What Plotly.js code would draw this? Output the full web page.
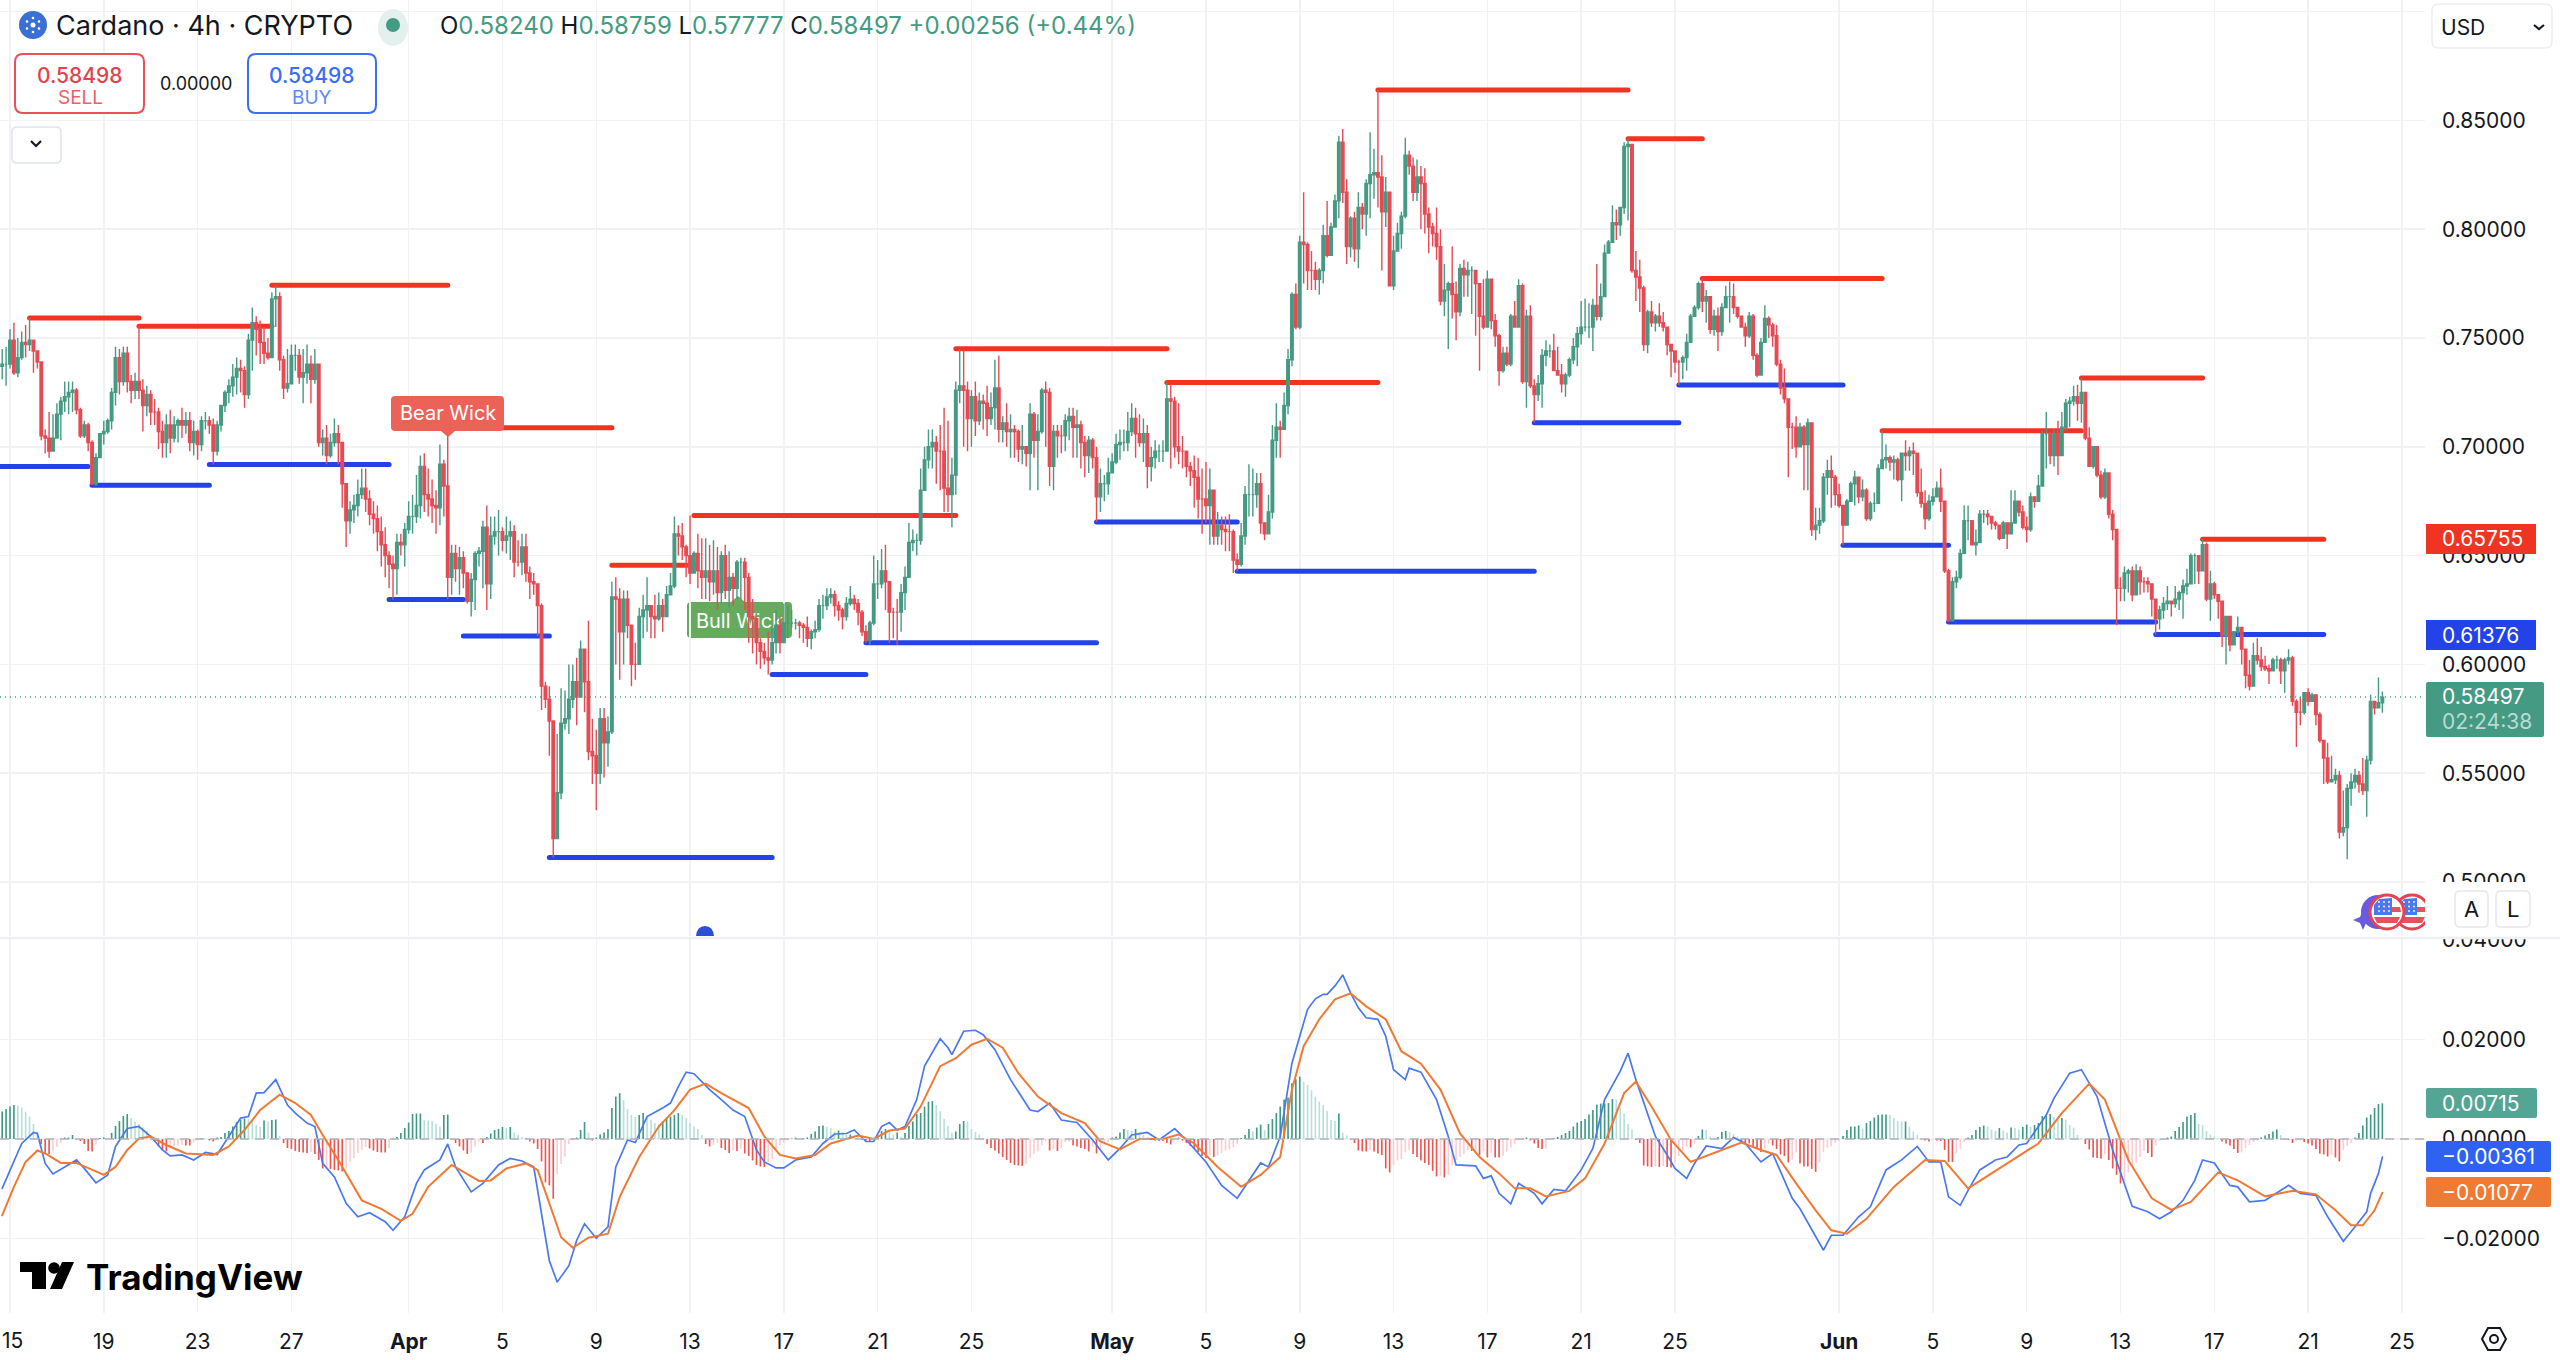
<!DOCTYPE html>
<html><head><meta charset="utf-8">
<script src="https://cdn.plot.ly/plotly-3.0.1.min.js"></script>
<style>html,body{margin:0;padding:0;background:#fff}#chart{width:2560px;height:1360px}.js-line{stroke-linecap:round}</style>
</head><body><div id="chart"></div>
<script>
const firstOpen=.737;
const closes=[
.738,.738,.749,.734,.741,.748,.747,.749,.744,.739,
.705,.704,.698,.704,.715,.721,.723,.725,.726,.717,
.705,.71,.702,.683,.695,.706,.707,.712,.725,.741,
.73,.743,.73,.726,.73,.726,.719,.724,.716,.716,
.707,.702,.71,.704,.71,.712,.71,.712,.702,.707,
.701,.712,.712,.71,.698,.71,.719,.725,.728,.732,
.736,.735,.724,.749,.757,.754,.748,.743,.741,.768,
.769,.74,.727,.729,.742,.742,.732,.734,.738,.731,
.738,.702,.704,.696,.702,.706,.702,.683,.666,.671,
.673,.678,.681,.676,.669,.667,.661,.655,.65,.646,
.644,.656,.655,.662,.668,.668,.673,.691,.678,.676,
.673,.672,.692,.682,.64,.651,.644,.649,.642,.629,
.639,.651,.652,.663,.637,.659,.661,.661,.657,.659,
.661,.647,.647,.654,.642,.638,.637,.627,.59,.584,
.574,.52,.541,.573,.575,.584,.592,.585,.607,.592,
.56,.558,.55,.575,.564,.569,.631,.63,.615,.63,
.618,.6,.6,.622,.625,.627,.622,.621,.627,.622,
.632,.636,.66,.659,.654,.65,.642,.651,.643,.64,
.643,.638,.643,.633,.65,.634,.64,.635,.647,.647,
.64,.622,.621,.61,.606,.603,.602,.61,.618,.61,
.619,.619,.619,.619,.618,.617,.612,.615,.616,.627,
.627,.631,.632,.627,.625,.622,.628,.63,.628,.624,
.615,.611,.619,.637,.637,.643,.638,.624,.624,.624,
.633,.64,.656,.657,.657,.68,.694,.7,.702,.698,
.698,.681,.678,.687,.726,.728,.726,.713,.723,.712,
.721,.72,.713,.718,.727,.708,.711,.707,.708,.707,
.699,.7,.697,.715,.703,.707,.726,.725,.691,.707,
.705,.705,.712,.714,.709,.71,.702,.696,.703,.695,
.677,.683,.683,.688,.693,.701,.702,.702,.707,.713,
.706,.702,.706,.691,.695,.698,.698,.698,.722,.721,
.7,.698,.698,.691,.689,.686,.676,.676,.673,.68,
.659,.664,.662,.661,.661,.648,.646,.659,.678,.678,
.678,.683,.665,.66,.67,.703,.709,.708,.719,.74,
.77,.755,.794,.793,.781,.781,.777,.781,.797,.788,
.801,.813,.84,.817,.792,.805,.791,.81,.807,.821,
.825,.826,.824,.808,.817,.774,.79,.798,.806,.834,
.829,.817,.824,.821,.807,.801,.798,.792,.767,.772,
.775,.77,.762,.782,.779,.781,.781,.775,.76,.755,
.777,.758,.751,.735,.743,.738,.76,.755,.774,.73,
.76,.728,.724,.729,.742,.744,.744,.735,.733,.729,
.733,.74,.746,.752,.755,.755,.755,.765,.76,.769,
.789,.794,.803,.802,.81,.838,.839,.781,.778,.773,
.747,.762,.757,.76,.757,.755,.747,.744,.739,.739,
.741,.748,.76,.764,.775,.767,.769,.754,.76,.753,
.764,.769,.769,.764,.76,.755,.751,.76,.742,.733,
.748,.759,.756,.751,.738,.727,.722,.709,.709,.7,
.709,.701,.711,.662,.664,.666,.686,.689,.686,.678,
.673,.664,.675,.683,.686,.677,.68,.667,.674,.674,
.69,.694,.695,.693,.694,.685,.697,.696,.698,.697,
.679,.674,.667,.675,.677,.681,.675,.643,.62,.638,
.64,.651,.666,.666,.655,.656,.669,.669,.668,.665,
.664,.658,.665,.66,.665,.675,.67,.663,.662,.677,
.675,.682,.706,.706,.696,.706,.696,.709,.72,.721,
.723,.72,.725,.704,.691,.7,.687,.677,.688,.669,
.662,.635,.635,.642,.643,.632,.643,.638,.638,.637,
.63,.621,.625,.628,.629,.628,.63,.633,.636,.637,
.65,.65,.643,.655,.63,.637,.632,.629,.613,.622,
.609,.615,.617,.607,.595,.59,.604,.602,.599,.598,
.597,.602,.602,.597,.602,.603,.583,.578,.578,.587,
.583,.586,.577,.565,.557,.546,.547,.549,.523,.525,
.543,.546,.549,.545,.542,.556,.583,.58,.5824,.58497];
const highs=[
.745,.746,.754,.757,.75,.753,.756,.7592,.749,.744,
.739,.708,.716,.715,.72,.723,.73,.73,.73,.727,
.718,.712,.711,.703,.697,.706,.712,.713,.727,.746,
.745,.746,.746,.733,.734,.7554,.731,.728,.726,.722,
.718,.712,.715,.717,.714,.713,.718,.716,.716,.712,
.708,.714,.716,.714,.713,.712,.719,.726,.731,.738,
.741,.74,.737,.752,.764,.76,.758,.755,.75,.771,
.7742,.771,.742,.745,.747,.747,.745,.745,.747,.742,
.745,.738,.708,.71,.706,.713,.71,.7,.683,.675,
.678,.685,.69,.69,.68,.675,.673,.668,.663,.652,
.65,.66,.66,.665,.675,.678,.687,.696,.697,.69,
.685,.68,.701,.694,.7088,.655,.655,.654,.652,.642,
.642,.652,.654,.666,.673,.668,.668,.671,.663,.668,
.666,.664,.657,.66,.66,.645,.642,.637,.628,.592,
.59,.572,.568,.589,.588,.6,.6,.603,.611,.605,
.62,.575,.57,.58,.58,.576,.638,.64,.635,.634,
.634,.612,.61,.626,.632,.64,.627,.632,.633,.63,
.636,.642,.668,.664,.665,.655,.6684,.652,.66,.658,
.658,.655,.657,.654,.652,.655,.652,.642,.648,.649,
.649,.642,.63,.615,.612,.61,.615,.617,.625,.622,
.628,.627,.625,.621,.62,.619,.622,.616,.62,.63,
.632,.635,.635,.634,.629,.626,.631,.636,.632,.63,
.625,.618,.62,.65,.648,.653,.655,.632,.626,.63,
.637,.645,.665,.662,.66,.69,.7,.708,.708,.705,
.71,.718,.712,.695,.73,.7451,.7445,.73,.726,.73,
.725,.724,.728,.725,.74,.742,.714,.72,.715,.71,
.708,.71,.7,.72,.716,.715,.727,.73,.727,.71,
.71,.71,.715,.718,.718,.717,.712,.705,.705,.704,
.7,.69,.687,.695,.697,.706,.708,.708,.716,.72,
.718,.715,.713,.71,.7,.703,.701,.703,.7296,.729,
.723,.72,.705,.695,.693,.696,.695,.69,.693,.69,
.68,.67,.668,.668,.669,.662,.651,.665,.682,.692,
.69,.688,.688,.665,.678,.71,.72,.712,.725,.745,
.771,.775,.797,.817,.794,.79,.785,.782,.802,.813,
.803,.816,.843,.846,.823,.806,.808,.817,.812,.823,
.8445,.837,.864,.834,.824,.817,.797,.803,.808,.842,
.836,.833,.832,.829,.828,.81,.803,.81,.8,.784,
.776,.792,.776,.784,.786,.785,.783,.777,.762,.777,
.781,.777,.761,.752,.746,.746,.761,.767,.777,.775,
.763,.765,.731,.733,.745,.749,.747,.752,.746,.738,
.734,.741,.75,.755,.767,.768,.766,.768,.784,.775,
.793,.795,.811,.809,.81,.84,.8416,.825,.79,.786,
.774,.763,.767,.761,.766,.762,.754,.747,.744,.74,
.742,.752,.761,.765,.776,.7773,.772,.769,.763,.764,
.766,.774,.776,.775,.764,.76,.757,.762,.761,.743,
.75,.765,.76,.757,.756,.74,.736,.722,.711,.714,
.711,.71,.713,.689,.672,.672,.688,.694,.696,.687,
.683,.673,.676,.684,.689,.686,.685,.681,.675,.679,
.692,.7074,.701,.696,.696,.695,.692,.703,.7,.702,
.693,.69,.68,.678,.681,.684,.69,.675,.644,.64,
.643,.653,.673,.673,.666,.662,.671,.671,.671,.667,
.666,.663,.666,.665,.68,.68,.675,.673,.668,.679,
.677,.687,.7075,.716,.707,.708,.712,.716,.722,.723,
.728,.7285,.7316,.725,.709,.7,.695,.689,.69,.677,
.671,.66,.64,.645,.644,.645,.646,.645,.64,.64,
.637,.63,.627,.631,.636,.629,.636,.634,.639,.644,
.651,.651,.648,.6575,.656,.643,.638,.632,.622,.622,
.62,.615,.622,.617,.607,.602,.61,.612,.608,.604,
.6,.603,.604,.603,.603,.607,.604,.584,.585,.587,
.589,.587,.586,.578,.565,.564,.558,.552,.551,.542,
.545,.55,.552,.551,.557,.558,.586,.583,.594,.58759];
const lows=[
.731,.728,.736,.733,.732,.74,.741,.744,.734,.736,
.703,.697,.695,.698,.704,.703,.716,.715,.716,.715,
.704,.704,.698,.6823,.682,.696,.701,.706,.708,.719,
.724,.728,.725,.72,.722,.722,.707,.714,.71,.71,
.699,.695,.695,.697,.702,.702,.704,.706,.698,.696,
.694,.698,.708,.706,.6919,.696,.707,.716,.72,.723,
.724,.725,.718,.722,.735,.742,.738,.738,.74,.741,
.755,.735,.722,.725,.729,.735,.729,.72,.729,.72,
.729,.7,.696,.692,.695,.7,.692,.672,.654,.66,
.665,.668,.676,.67,.664,.66,.652,.645,.64,.635,
.6298,.632,.65,.645,.66,.66,.665,.667,.67,.668,
.665,.66,.664,.668,.63,.632,.638,.632,.635,.628,
.622,.625,.645,.635,.625,.63,.655,.65,.652,.651,
.648,.64,.645,.641,.638,.63,.632,.6131,.579,.58,
.558,.5113,.521,.538,.57,.568,.58,.572,.585,.578,
.556,.545,.533,.545,.548,.553,.568,.6,.593,.6,
.612,.59,.593,.605,.612,.615,.612,.612,.62,.615,
.625,.632,.635,.65,.648,.64,.637,.645,.635,.63,
.63,.629,.632,.625,.628,.63,.626,.627,.63,.63,
.625,.61,.605,.6,.598,.6,.5953,.6,.605,.605,
.61,.612,.617,.616,.612,.61,.608,.607,.612,.615,
.621,.625,.628,.622,.62,.616,.62,.627,.625,.618,
.613,.6099,.609,.618,.63,.635,.625,.61,.612,.609,
.615,.625,.64,.652,.65,.655,.68,.69,.69,.683,
.68,.67,.67,.663,.678,.72,.7,.698,.7,.705,
.71,.708,.705,.71,.708,.702,.702,.7,.695,.695,
.693,.692,.691,.68,.695,.68,.706,.7,.682,.68,
.695,.697,.698,.703,.695,.695,.69,.686,.688,.69,
.6654,.67,.675,.678,.688,.692,.694,.698,.698,.705,
.695,.7,.693,.681,.684,.69,.693,.693,.7,.69,
.695,.692,.69,.686,.682,.672,.667,.66,.665,.655,
.655,.655,.655,.652,.652,.642,.6428,.645,.655,.668,
.668,.672,.66,.657,.66,.667,.695,.695,.708,.715,
.737,.754,.754,.775,.772,.772,.772,.77,.775,.787,
.788,.801,.805,.812,.784,.787,.785,.782,.8,.797,
.805,.814,.81,.781,.801,.774,.772,.79,.791,.805,
.825,.813,.813,.8,.798,.789,.792,.786,.765,.76,
.745,.759,.749,.76,.769,.769,.761,.751,.735,.754,
.755,.754,.746,.728,.734,.737,.737,.755,.755,.729,
.718,.727,.711,.721,.718,.737,.741,.741,.733,.725,
.723,.732,.738,.737,.747,.753,.75,.744,.758,.758,
.77,.79,.795,.795,.797,.807,.804,.78,.767,.762,
.744,.743,.755,.753,.755,.753,.742,.732,.734,.7284,
.731,.735,.748,.76,.763,.762,.757,.752,.751,.744,
.751,.764,.757,.761,.759,.755,.746,.75,.74,.732,
.733,.748,.75,.746,.737,.724,.72,.686,.699,.695,
.706,.68,.68,.659,.657,.66,.665,.678,.672,.673,
.672,.6548,.664,.675,.673,.674,.675,.666,.666,.67,
.677,.69,.69,.689,.685,.684,.675,.689,.689,.687,
.677,.672,.662,.666,.673,.677,.67,.642,.6195,.621,
.635,.639,.651,.657,.655,.65,.657,.665,.664,.662,
.662,.657,.658,.653,.663,.669,.668,.662,.656,.661,
.672,.681,.682,.69,.692,.691,.687,.696,.707,.709,
.719,.712,.711,.703,.691,.69,.686,.676,.676,.667,
.657,.618,.629,.629,.633,.629,.633,.632,.633,.633,
.622,.6137,.616,.621,.625,.622,.626,.625,.621,.632,
.637,.637,.637,.648,.629,.62,.63,.621,.608,.6,
.606,.612,.613,.6,.589,.588,.593,.6,.597,.597,
.591,.597,.598,.591,.587,.6,.581,.562,.572,.577,
.581,.583,.572,.564,.545,.545,.547,.545,.52,.521,
.5105,.535,.543,.541,.54,.53,.554,.577,.58,.57777];
const resistanceFrom=[7,35,69,114,156,177,244,298,352,416,435,481,532,563];
const resistanceTo=[35,69,114,156,177,244,298,352,416,435,481,532,563,594];
const resistanceLevel=[.7592,.7554,.7742,.7088,.6456,.6684,.7451,.7296,.864,.8416,.7773,.7074,.7316,.65755];
const supportFrom=[-1,23,53,99,118,140,197,221,280,316,392,429,471,498,551];
const supportTo=[22,53,99,118,140,197,221,280,316,392,429,471,498,551,594];
const supportLevel=[.6909,.6823,.6919,.6298,.6131,.5113,.5953,.6099,.6654,.6428,.711,.7284,.6548,.6195,.61376];
const macdBars=[0,3,5,8,9,11,13,16,19,21,24,27,29,32,35,38,41,43,46,49,52,55,58,61,63,65,67,70,73,75,78,80,82,85,88,91,94,98,100,103,106,108,112,114,116,120,123,127,130,133,136,138,140,142,145,147,149,152,155,157,160,162,165,169,171,173,175,177,181,184,187,190,193,195,198,200,203,207,210,213,216,218,221,223,225,227,229,231,234,236,240,242,243,246,249,251,254,258,263,265,268,271,275,279,283,286,289,293,296,300,303,308,312,316,319,322,324,327,
330,334,336,338,339,341,343,345,347,349,352,354,356,359,360,363,367,370,372,377,379,381,383,386,388,392,394,397,400,404,407,410,414,416,418,421,423,426,428,431,433,436,440,443,446,450,453,456,458,460,464,466,468,471,475,478,482,486,490,493,496,498,501,503,506,510,513,516,518,523,525,529,532,536,540,543,545,549,552,555,558,561,563,566,570,572,575,579,585,588,592,595,599,602,605,606,608,609];
const macdMilli=[-9.9,-4.6,-.9,1.3,1.1,-4.9,-7,-5.6,-4.2,-5.9,-8.8,-7.2,-1.5,2.1,2.5,.5,-2.2,-3.4,-3.2,-4.2,-2.7,-3.1,.5,4.2,4.5,9.2,9.3,11.9,6.8,5.2,3.2,2.5,-4.9,-7.6,-12.9,-15.6,-14.8,-16.6,-18.3,-15.6,-8.9,-6.2,-4.2,-1,-5.6,-10.6,-8.9,-5.2,-3.9,-4.4,-5.6,-15,-24.4,-28.7,-25.4,-20.3,-17,-19.9,-17.6,-5.6,-.2,-.7,4.5,6.2,7.2,10.5,13.4,13.1,9.9,7.9,5.8,4.5,-2.2,-4.6,-5.8,-5.8,-4.2,-3.6,-.9,1,1.1,1.8,-.5,-.5,2.5,3.3,1.8,2.5,7.9,14.6,20.1,18.3,16.9,21.6,21.8,20.9,17.9,11.9,5.8,5.5,7.2,3.8,3.3,-.2,-4.2,-1.9,.8,1.3,-.2,2.1,-.2,-4.6,-9.3,-11.9,-8.3,-4.8,-5.6,.5,
15.2,26,28.1,29,29,30.7,32.9,29.3,26.3,24.3,24,20.6,13.9,11.9,14.2,13.4,7.9,.5,-5.2,-5.4,-7.9,-7.4,-10.9,-13,-8.9,-10.9,-13,-10.1,-10.4,-6.2,-1.9,7.9,13.6,17.2,11.9,5.2,.5,-3.2,-5.9,-7.9,-4.9,-1.4,-1.9,.3,-.9,-4.6,-2.9,-8.3,-11.9,-14,-19.7,-22.3,-19.3,-19.3,-15.6,-13.6,-6.2,-4.2,-1.5,-4.6,-4.6,-11.6,-13.3,-10.3,-6.2,-4.2,-3.6,-1.2,-.9,4.8,8.2,13.2,13.9,8.5,-2.2,-8.9,-13.5,-14.6,-16,-14.6,-12.3,-8.3,-4.2,-4.8,-9.3,-9.6,-12.6,-12.3,-9.3,-10.9,-11.3,-15.6,-20.5,-17.6,-14.6,-10.9,-6.9,-3.61];
const signalBars=[0,3,6,9,11,15,19,23,26,29,32,35,38,42,47,54,58,62,66,71,75,79,82,86,89,92,97,102,105,109,115,118,122,125,129,134,137,140,143,146,150,155,158,163,168,172,176,180,184,191,195,199,203,208,212,219,223,227,231,235,240,244,248,252,256,260,265,271,277,281,286,291,297,301,305,311,317,322,327,
330,333,337,341,345,349,354,358,363,368,373,378,383,387,391,395,401,405,410,415,418,422,427,432,439,445,450,454,459,464,468,472,477,484,492,497,503,511,521,527,534,538,544,550,555,560,567,572,579,586,592,597,601,604,607,609];
const signalMilli=[-15.3,-9.6,-4.6,-2.3,-2.9,-4.8,-4.8,-6.2,-7.2,-5.6,-2.2,.1,.5,-1.2,-2.9,-3.2,-1.5,1.8,5.8,8.9,7.2,4.8,.8,-4.2,-8.3,-12.3,-14,-16.4,-15,-9.6,-5.2,-6.6,-8.4,-8.3,-5.9,-4.9,-6.2,-12.9,-19.7,-21.8,-19.8,-19,-11.6,-3.6,2.5,5.8,9.9,11.1,9.2,6.2,.5,-3.2,-3.9,-3.2,-.9,.7,0,1.7,2.1,6.5,14.6,16.2,18.9,20.1,18.3,13.2,8.5,5.2,3.2,-.5,-2.1,0,0,.9,-.9,-5.6,-9.6,-7.2,-3.6,
9.9,18.6,24,28,29.2,26.6,24,17.6,15.1,9.9,1.1,-3.6,-6.9,-9.9,-9.9,-11.5,-10.4,-7.9,-.9,9.2,11.5,6.5,-.2,-4.6,-2.5,-.7,-2.2,-3.2,-8.9,-14.3,-18.3,-19,-16,-9.6,-4.2,-4.4,-9.9,-5.9,-.9,5.2,11.1,7.9,-4.2,-11.9,-14.2,-12.6,-6.7,-8.3,-11.5,-10.4,-11.1,-14.3,-17.3,-17.3,-14.3,-10.77];
const histMilli=[
5.5,6,6.5,6.8,6.7,6.3,5.5,4.5,3,1.5,
-1,-2.8,-3,-2.5,-1.6,-.8,.3,.3,.8,.2,
-.4,-1,-2.4,-2.5,-1.1,.2,.3,.2,1.2,2.6,
3.6,4.6,5,4.2,3.5,3,2.3,1.6,.8,-.5,
-1.5,-2.2,-2.5,-1.8,-1.4,-1.3,-1.2,-1.3,-1.3,-.7,
-.3,.2,.1,-.3,-.5,.3,.4,1.2,1.6,2.5,
3.4,3.9,4.1,4,3.8,2.8,2.4,3.7,3.5,3.8,
3.9,.6,-.8,-1.8,-2,-2.4,-2.6,-2.7,-2.8,-2.6,
-3,-4.2,-5.9,-5.5,-6,-6.2,-6.3,-6.5,-5.8,-4.6,
-3.8,-2.8,-2.2,-1.6,-1.9,-2.3,-2.6,-2.7,-2.7,-1.8,
-.3,.4,1.2,2.2,3.3,5,5.1,5.1,3.8,3.7,
3.6,3,2.5,4.8,4.9,.2,-.8,-1.5,-2.3,-3,
-2.7,-1.5,-.5,-.8,.4,1.1,1.8,2,2.4,2.2,
2.4,1.3,.8,.4,.3,-.5,-.9,-2,-4.5,-8.7,
-9.3,-12,-7,-5,-3.5,-1,-.3,.3,1.8,3.4,
1.3,-.3,.3,.9,1.3,2,6.2,8.5,9.2,7.8,
6,4.8,4.4,4.8,5.2,4.3,3.8,3.2,3,3.6,
4.2,4.5,4.8,5.2,4.8,4.2,3.2,2.5,2,.8,
-1,-1.5,-1.2,-.8,-1.8,-2.2,-2.8,-2.3,-2.4,-1.9,
-2.9,-3.4,-4.3,-5.2,-5.5,-5.6,-4.7,-4,-2.5,-1.2,
-.8,-.2,.1,.3,.2,.2,.3,1,1.5,2.6,
2.7,2.4,2.2,1.5,1.7,1.4,.8,.9,.6,.4,
-.2,-.3,-.6,-.1,.5,1.6,2,1.6,.9,1.3,
.5,1.2,2.6,3.5,5,5.2,6.5,7.5,7.6,6.8,
5.6,4,2.6,1.2,1.5,3,3.6,3.5,2,1.4,
.9,.2,-1,-1.8,-2.3,-2.9,-3.6,-4.2,-4.8,-5.2,
-5.3,-5.4,-5,-3.8,-3,-2.5,-1.2,-.4,-2.3,-2.1,
-2.4,-1.8,-.6,-.5,-1.3,-1.5,-1.8,-2,-2.5,-1.6,
-2.9,-2.1,-1.1,-.6,.3,.5,1.3,2,1.8,1.6,
2,1.4,.8,.4,.3,-.3,-.3,-.4,-.8,-1.1,
-.1,.3,-.3,-.8,-1.4,-2,-2.6,-3.4,-3.8,-3.3,
-3.6,-3.3,-2.8,-2.3,-2.1,-1.7,-1,.2,.8,2,
1.5,2.3,2.9,1.8,3,4,5.2,6.5,7.9,8.3,
11.2,12,12.5,11.5,10.8,9.8,8.5,7.5,6.8,5.6,
3.8,3.6,5.1,1.3,.7,-.1,-.8,-2.3,-2.5,-2.5,
-2.2,-2.5,-2.9,-3.2,-5.9,-6.7,-5.2,-4.3,-4,-2.7,
-2.2,-3,-3.6,-4.3,-4.8,-5.2,-6.4,-7.5,-7.4,-7.7,
-7.2,-5.2,-4.2,-3.6,-3,-2.2,-2.4,-2.2,-3.2,-2.5,
-3.7,-2.8,-3.7,-3.7,-3.4,-2.5,-1.7,-1,-.3,.1,
.3,-.3,-.9,-1.8,-2,-1.9,-.2,.2,.4,.8,
1.2,1.6,2.5,3.3,3.6,4,4.9,5.8,6.9,7.1,
7.1,7.2,8,7.9,6.3,5.1,3,1.9,-.2,-.8,
-5.3,-5.5,-5.6,-5.5,-5.6,-5.4,-5.6,-5.7,-4.7,-3.4,
-2.4,-1.6,-1.7,-1,.6,1.9,1.8,.5,.2,.4,
1.4,1.6,1.4,1,.5,-.4,-.8,-.9,-1.4,-1.9,
-2.6,-2,-.9,-1.3,-2,-3.1,-3.4,-4.7,-4.1,-2.7,
-4.9,-5.5,-5.5,-6,-6.6,-4.7,-2.6,-1.8,-1.5,-.8,
-.4,.6,1.8,2.5,2.5,2.7,2.1,3.2,3.6,4.3,
4.8,4.9,4.9,4.8,4.2,3.6,3.5,3.5,2.5,1.5,
.8,0,-.3,-.5,-.2,-.3,-.4,-2.2,-4.6,-4.6,
-2.9,-2,-.6,.3,.8,1.8,2.4,2.7,2.5,1.9,
1.6,2.2,1.7,1.3,2.3,2.2,1.9,2.4,2.9,2.4,
2.8,3.2,4.6,4.8,5,4.4,4.2,4.2,3.9,2.8,
2.3,.8,.2,-1,-2.1,-3.7,-3.8,-3.9,-3,-4.2,
-5.9,-7.2,-8.9,-8.6,-6.7,-5.4,-4.8,-3.6,-2.4,-2.8,
-3.6,-1.3,-.3,-.1,.3,.5,1.6,2.4,3.4,4.5,
4.8,5.2,3,2.8,1.6,.9,.5,.1,-.5,-.9,
-1.3,-2,-2.8,-2.7,-1.8,-1.2,-.6,-.3,.3,.7,
1,1.5,1.9,.8,.2,-.2,-.8,-.4,-.3,-.6,
-.9,-1.3,-2,-2.9,-3.1,-3.5,-3.2,-3.7,-4.5,-2.2,
-1.4,-.8,.3,1.2,2.7,4.3,4.9,6.2,7,7.15];
const priceTicks=[.5,.55,.6,.65,.7,.75,.8,.85,.9];
const priceTickLabels=['0.50000','0.55000','0.60000','0.65000','0.70000','0.75000','0.80000','0.85000',''];
const macdTicks=[.04,.02,0,-.02];
const macdTickLabels=['0.04000','0.02000','0.00000','\u22120.02000'];
const dateTicks=['2025-03-15','2025-03-19','2025-03-23','2025-03-27','2025-04-01','2025-04-05','2025-04-09','2025-04-13','2025-04-17','2025-04-21','2025-04-25','2025-05-01','2025-05-05','2025-05-09','2025-05-13','2025-05-17','2025-05-21','2025-05-25','2025-06-01','2025-06-05','2025-06-09','2025-06-13','2025-06-17','2025-06-21','2025-06-25'];
const dateTickLabels=['15','19','23','27','<b>Apr</b>','5','9','13','17','21','25','<b>May</b>','5','9','13','17','21','25','<b>Jun</b>','5','9','13','17','21','25'];

const FONT='Inter, "Noto Sans", sans-serif', INK='#131722';
const T0=Date.UTC(2025,2,14,16), BAR=4*3600e3;
const barTime=i=>new Date(T0+i*BAR).toISOString().slice(0,19);
const times=closes.map((_,i)=>barTime(i));
const opens=closes.map((_,i)=>i?closes[i-1]:firstOpen);
const segs=(from,to,lvl)=>{const x=[],y=[];from.forEach((f,k)=>{x.push(barTime(f),barTime(to[k]),null);y.push(lvl[k],lvl[k],null)});return{x,y}};
const res=segs(resistanceFrom,resistanceTo,resistanceLevel), sup=segs(supportFrom,supportTo,supportLevel);
const histColor=histMilli.map((v,i)=>{const p=i?histMilli[i-1]:v;
  if(v>=0) return v>=p?'#3f9a85':'#b7e0da'; return v<=p?'#ef5350':'#fbcdd2'});

const traces=[
 {type:'scatter',mode:'lines',x:res.x,y:res.y,xaxis:'x',yaxis:'y',line:{color:'#f23322',width:5},hoverinfo:'skip',connectgaps:false},
 {type:'scatter',mode:'lines',x:sup.x,y:sup.y,xaxis:'x',yaxis:'y',line:{color:'#2342e8',width:5},hoverinfo:'skip',connectgaps:false},
 {type:'candlestick',x:times,open:opens,high:highs,low:lows,close:closes,xaxis:'x',yaxis:'y3',whiskerwidth:0,
  increasing:{line:{color:'#459a83',width:1.4},fillcolor:'#459a83'},
  decreasing:{line:{color:'#e54b54',width:1.4},fillcolor:'#e54b54'},hoverinfo:'skip'},
 {type:'bar',x:times,y:histMilli.map(v=>v/1000),xaxis:'x2',yaxis:'y2',width:BAR*.42,marker:{color:histColor,line:{width:0}},hoverinfo:'skip'},
 {type:'scatter',mode:'lines',x:macdBars.map(barTime),y:macdMilli.map(v=>v/1000),xaxis:'x2',yaxis:'y2',line:{color:'#4a78ee',width:1.7},hoverinfo:'skip'},
 {type:'scatter',mode:'lines',x:signalBars.map(barTime),y:signalMilli.map(v=>v/1000),xaxis:'x2',yaxis:'y2',line:{color:'#f07a35',width:2},hoverinfo:'skip'}
];

const PX=x=>x/2560, PY=y=>1-y/1360;
const rr=(x0,y0,x1,y1,r)=>{const a=PX,b=PY;return `M${a(x0+r)} ${b(y0)}L${a(x1-r)} ${b(y0)}Q${a(x1)} ${b(y0)} ${a(x1)} ${b(y0+r)}L${a(x1)} ${b(y1-r)}Q${a(x1)} ${b(y1)} ${a(x1-r)} ${b(y1)}L${a(x0+r)} ${b(y1)}Q${a(x0)} ${b(y1)} ${a(x0)} ${b(y1-r)}L${a(x0)} ${b(y0+r)}Q${a(x0)} ${b(y0)} ${a(x0+r)} ${b(y0)}Z`};
const poly=pts=>'M'+pts.map(p=>PX(p[0])+' '+PY(p[1])).join('L')+'Z';
const box=(x0,y0,x1,y1,r,fill,stroke,w,layer)=>({type:'path',xref:'paper',yref:'paper',path:rr(x0,y0,x1,y1,r),fillcolor:fill,line:{color:stroke||fill,width:stroke?(w||1.5):0},layer:layer||'above'});
const shp=(pts,fill,layer)=>({type:'path',xref:'paper',yref:'paper',path:poly(pts),fillcolor:fill,line:{width:0},layer:layer||'above'});
const circ=(cx,cy,r,fill,stroke,w)=>({type:'circle',xref:'paper',yref:'paper',x0:PX(cx-r),x1:PX(cx+r),y0:PY(cy+r),y1:PY(cy-r),fillcolor:fill,line:{color:stroke||fill,width:stroke?w:0},layer:'above'});
const txt=(text,x,y,size,color,anchor,weight)=>({xref:'paper',yref:'paper',x:PX(x),y:PY(y),text,showarrow:false,xanchor:anchor||'left',yanchor:'middle',font:{family:FONT,size,color,weight:weight||400},borderpad:0});

const flag=cx=>{const s=[circ(cx,912,17,'#ffffff','#e6424f',3),
  shp([[cx+5,907],[cx+13,907],[cx+14,912],[cx+5,912]],'#e8505a'),
  shp([[cx-13,917],[cx+13,917],[cx+10,923],[cx-10,923]],'#e8505a'),
  shp([[cx-8,899],[cx+5,898],[cx+5,915],[cx-13,915],[cx-13,905]],'#4a78ee')];
  [902,906.5,911].forEach(y=>[cx-8,cx-3,cx+2].forEach(x=>s.push(circ(x,y,.9,'#ffffff'))));return s};
const shapes=[
 {type:'line',xref:'x domain',yref:'y',x0:0,x1:1,y0:.58497,y1:.58497,line:{color:'#459a83',width:1.5,dash:'1px 4px'},layer:'above'},
 {type:'line',xref:'x2 domain',yref:'y2',x0:0,x1:1,y0:0,y1:0,line:{color:'#b0b3ba',width:1.5,dash:'9px 6px'},layer:'above'},
 {type:'path',xref:'paper',yref:'paper',path:rr(687,602,792,638,4),fillcolor:'#66ab5d',line:{width:0},layer:'below',
  label:{text:'Bull Wick',font:{family:FONT,size:20,color:'#ffffff'},textposition:'middle center'}},
 shp([[731,602],[738,596],[745,602]],'#66ab5d','below'),
 box(391,396,504,431,4,'#ec6259'),
 shp([[441,431],[448,437],[455,431]],'#ec6259'),
 {type:'path',xref:'paper',yref:'paper',path:`M${PX(696)} ${PY(936)}Q${PX(697)} ${PY(926)} ${PX(705)} ${PY(926)}Q${PX(713)} ${PY(926)} ${PX(714)} ${PY(936)}Z`,fillcolor:'#2a4fd6',line:{width:0},layer:'above'},
 shp([[2363,910],[2366,917],[2373,920],[2366,923],[2363,930],[2360,923],[2353,920],[2360,917]],'#6a5ae0'),
 circ(2378,912,17,'#6a5ae0'),
 ...flag(2412),...flag(2387),
 {type:'rect',xref:'paper',yref:'paper',x0:PX(2425),x1:1,y0:PY(938),y1:PY(882),fillcolor:'#ffffff',line:{width:0},layer:'above'},
 {type:'line',xref:'paper',yref:'paper',x0:0,x1:1,y0:PY(938),y1:PY(938),line:{color:'#eef0f3',width:2.5},layer:'above'},
 box(2455,891,2488,927,5,'#ffffff','#e6e8ec',1.5), box(2496,891,2530,927,5,'#ffffff','#e6e8ec',1.5),
 {type:'rect',xref:'paper',yref:'paper',x0:PX(2426),x1:PX(2536),y0:PY(554),y1:PY(524),fillcolor:'#f03424',line:{width:0},layer:'above'},
 {type:'rect',xref:'paper',yref:'paper',x0:PX(2426),x1:PX(2536),y0:PY(650),y1:PY(620),fillcolor:'#2342e8',line:{width:0},layer:'above'},
 box(2426,682,2544,737,2,'#459a83'),
 box(2426,1088,2537,1118,2,'#55a594'),
 box(2426,1141,2551,1172,2,'#2f62f0'),
 box(2426,1177,2551,1207,2,'#ef7a33'),
 circ(33,25,14,'#3a6fd4'),circ(33,25,2.5,'#ffffff'),circ(33,18,1.3,'#ffffff'),circ(33,32,1.3,'#ffffff'),circ(27,21.5,1.3,'#ffffff'),circ(39,21.5,1.3,'#ffffff'),circ(27,28.5,1.3,'#ffffff'),circ(39,28.5,1.3,'#ffffff'),
 {type:'circle',xref:'paper',yref:'paper',x0:PX(378),x1:PX(408),y0:PY(46),y1:PY(9),fillcolor:'#e3f0ed',line:{width:0},layer:'above'},
 circ(393,25,7,'#459a83'),
 box(15,54,144,113,8,'#ffffff','#e9505a',2),
 box(248,54,376,113,8,'#ffffff','#3b6ef6',2),
 box(12,127,61,163,5,'#ffffff','#e0e3eb',1.5),
 {type:'path',xref:'paper',yref:'paper',path:`M${PX(31)} ${PY(141)}L${PX(36)} ${PY(146)}L${PX(41)} ${PY(141)}`,line:{color:INK,width:2.2},layer:'above'},
 box(2432,4,2552,48,7,'#ffffff','#eceef1',1.5),
 {type:'path',xref:'paper',yref:'paper',path:`M${PX(2534)} ${PY(25)}L${PX(2539)} ${PY(29)}L${PX(2544)} ${PY(25)}`,line:{color:INK,width:2.2},layer:'above'},
 shp([[20,1262],[46,1262],[46,1289],[32,1289],[32,1272],[20,1272]],'#000000'),
 circ(54,1268,5.8,'#000000'),
 shp([[62,1262],[74,1262],[62,1289],[50,1289]],'#000000'),
 {type:'path',xref:'paper',yref:'paper',path:poly([[2482,1339],[2488,1328],[2500,1328],[2506,1339],[2500,1350],[2488,1350]]),fillcolor:'rgba(0,0,0,0)',line:{color:INK,width:2},layer:'above'},
 {type:'circle',xref:'paper',yref:'paper',x0:PX(2490),x1:PX(2498),y0:PY(1343),y1:PY(1335),line:{color:INK,width:2},layer:'above'}
];

const G='#459a83';
const annotations=[
 txt('Cardano \u00b7 4h \u00b7 CRYPTO',55,25,27,INK),
 txt(`<span style="color:${INK}">O</span>0.58240 <span style="color:${INK}">H</span>0.58759 <span style="color:${INK}">L</span>0.57777 <span style="color:${INK}">C</span>0.58497 +0.00256 (+0.44%)`,439,25,24,G),
 txt('0.58498',80,75,21,'#e4424c','center',500),
 txt('SELL',80,98,19,'#ec6068','center'),
 txt('0.00000',196,83,18,INK,'center'),
 txt('0.58498',312,75,21,'#3b6ef6','center',500),
 txt('BUY',312,98,19,'#5f89f7','center'),
 txt('USD',2440,27,21,INK),
 txt('Bear Wick',447.5,413,20,'#ffffff','center'),
 txt('A',2471.5,909,22,INK,'center'),
 txt('L',2513,909,22,INK,'center'),
 txt('0.65755',2441,539,21,'#ffffff'),
 txt('0.61376',2441,635,21,'#ffffff'),
 txt('0.58497',2441,697,21,'#ffffff'),
 txt('02:24:38',2441,721,21,'#b9dbd1'),
 txt('0.00715',2441,1103,21,'#ffffff'),
 txt('\u22120.00361',2441,1156.5,21,'#ffffff'),
 txt('\u22120.01077',2441,1192,21,'#ffffff'),
 txt('TradingView',85,1277,35,'#000000','left',700),
 txt('15',12,1340,21,INK,'center')
];

const GRID='#f0f2f4';
const tick={family:FONT,size:21,color:INK};
const xrange=['2025-03-14 13:46','2025-06-25 23:38'];
const layout={
 width:2560,height:1360,autosize:false,margin:{l:0,r:0,t:0,b:0},paper_bgcolor:'#fff',plot_bgcolor:'#fff',
 showlegend:false,dragmode:false,barmode:'overlay',hovermode:false,boxgap:.08,
 xaxis:{type:'date',domain:[0,2425/2560],range:xrange,anchor:'y',tickvals:dateTicks,ticktext:dateTicks.map(()=>''),showgrid:true,gridcolor:GRID,gridwidth:1.5,zeroline:false,showline:false,ticks:'',rangeslider:{visible:false},fixedrange:true},
 xaxis2:{type:'date',domain:[0,2425/2560],range:xrange,anchor:'y2',tickvals:dateTicks,ticktext:dateTickLabels.map((t,i)=>i?t:''),tickfont:tick,tickangle:0,showgrid:true,gridcolor:GRID,gridwidth:1.5,zeroline:false,showline:false,ticks:'',ticklabelstandoff:14,fixedrange:true},
 yaxis:{domain:[1-936/1360,1],range:[.47518,.90533],anchor:'x',side:'right',tickmode:'array',tickvals:priceTicks,ticktext:priceTickLabels,tickfont:tick,showgrid:true,gridcolor:GRID,gridwidth:1.5,zeroline:false,showline:false,ticks:'',ticklabelstandoff:16,fixedrange:true},
 yaxis3:{domain:[1-936/1360,1],range:[.47518,.90533],anchor:'x',overlaying:'y',side:'right',showticklabels:false,showgrid:false,zeroline:false,showline:false,ticks:'',fixedrange:true},
 yaxis2:{domain:[1-1313/1360,1-939/1360],range:[-.03489,.0401],anchor:'x2',side:'right',tickmode:'array',tickvals:macdTicks,ticktext:macdTickLabels,tickfont:tick,showgrid:true,gridcolor:GRID,gridwidth:1.5,zeroline:false,showline:false,ticks:'',ticklabelstandoff:16,fixedrange:true},
 shapes,annotations
};
Plotly.newPlot('chart',traces,layout,{displayModeBar:false,staticPlot:true,responsive:false});
</script></body></html>
